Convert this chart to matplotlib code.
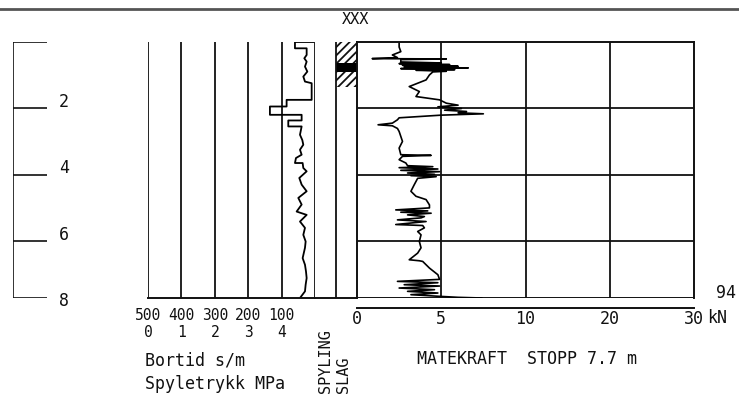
import numpy as np
import matplotlib
matplotlib.use("Agg")
import matplotlib.pyplot as plt
from matplotlib.lines import Line2D

plt.rcParams["font.family"] = ["DejaVu Sans Mono", "DejaVu Sans"]
plt.rcParams["font.size"] = 12
plt.rcParams["hatch.linewidth"] = 1.3

# --- data -----------------------------------------------------------------
depth_stop = 7.7
depth_ticks = [0, 2, 4, 6, 8]
depth_labels = ["", "2", "4", "6", "8"]

bortid_ticks = [500, 400, 300, 200, 100]
trykk_ticks = [0, 1, 2, 3, 4]
kraft_ticks = [0, 5, 10, 20, 30]
kraft_grid = [5, 10, 20]
depth_grid = [2, 4, 6]

# bortid (s/m) against depth (m)
bortid_depth = [0.0, 0.0, 0.19, 0.19, 0.39, 0.49, 0.59, 0.74, 0.89, 1.04,
                1.19, 1.24, 1.74, 1.74, 1.94, 1.94, 2.19, 2.19, 2.36, 2.36,
                2.54, 2.54, 2.79, 2.95, 3.09, 3.24, 3.39, 3.49, 3.64, 3.64,
                3.79, 3.89, 4.09, 4.29, 4.49, 4.69, 4.89, 5.10, 5.20, 5.40,
                5.59, 5.80, 6.00, 6.19, 6.50, 6.70, 6.90, 7.10, 7.30, 7.50,
                7.70]
bortid_val = [5, 60, 60, 25, 25, 32, 25, 30, 23, 35,
              30, 10, 10, 85, 85, 135, 135, 40, 40, 80,
              80, 40, 45, 38, 35, 45, 40, 57, 60, 37,
              35, 25, 47, 40, 25, 50, 40, 55, 25, 45,
              30, 35, 28, 30, 37, 30, 27, 25, 28, 30,
              45]

# matekraft (kN) against depth (m)
kraft_depth = [0.0, 0.15, 0.29, 0.39, 0.47, 0.50, 0.51, 0.53, 0.60, 0.63,
               0.65, 0.68, 0.70, 0.73, 0.75, 0.78, 0.80, 0.83, 0.85, 0.88,
               0.90, 0.99, 1.14, 1.34, 1.49, 1.64, 1.74, 1.84, 1.90, 1.95,
               2.00, 2.05, 2.09, 2.13, 2.16, 2.20, 2.28, 2.34, 2.44, 2.49,
               2.52, 2.60, 2.69, 2.99, 3.19, 3.39, 3.41, 3.44, 3.54, 3.64,
               3.72, 3.75, 3.78, 3.82, 3.86, 3.90, 3.94, 3.98, 4.02, 4.05,
               4.10, 4.29, 4.49, 4.64, 4.74, 4.90, 4.99, 5.05, 5.08, 5.12,
               5.15, 5.20, 5.25, 5.29, 5.35, 5.40, 5.49, 5.52, 5.59, 5.70,
               5.80, 6.00, 6.19, 6.35, 6.55, 6.58, 6.60, 6.80, 7.00, 7.14,
               7.20, 7.24, 7.30, 7.34, 7.40, 7.45, 7.50, 7.55, 7.60, 7.65,
               7.68, 7.70]
kraft_kn = [2.5, 2.5, 2.6, 2.1, 2.4, 0.9, 5.3, 2.6, 2.6, 5.0,
            2.5, 5.5, 2.7, 6.0, 2.8, 6.6, 2.6, 5.8, 3.5, 5.3,
            4.5, 4.3, 4.1, 3.1, 3.7, 3.5, 4.9, 5.3, 6.0, 4.8,
            6.2, 5.2, 6.5, 6.0, 7.5, 5.0, 2.5, 2.4, 2.1, 1.25,
            2.1, 2.4, 2.5, 2.7, 2.5, 2.6, 4.4, 2.7, 2.5, 2.9,
            3.0, 4.5, 2.5, 4.8, 2.6, 4.9, 3.0, 4.6, 3.2, 4.7,
            3.6, 3.4, 3.2, 3.5, 4.1, 4.3, 4.3, 2.3, 4.2, 2.6,
            4.4, 3.0, 4.0, 3.8, 2.4, 4.1, 2.3, 3.9, 4.0, 3.6,
            3.8, 3.7, 3.8, 3.6, 3.1, 3.7, 3.9, 4.3, 4.8, 4.9,
            2.4, 4.8, 2.8, 4.9, 2.5, 4.6, 3.0, 4.8, 3.2, 4.9,
            6.0, 7.4]

# slag column: hatched interval and solid interval (m)
slag_hatch = [0.0, 1.35]
slag_solid = [0.62, 0.90]

# --- figure ---------------------------------------------------------------
W, H = 739, 403
fig = plt.figure(figsize=(W / 100, H / 100), dpi=100)
ink = "#111111"
TOP, BOT = 42, 298


def px_axes(x0, x1, y0=TOP, y1=BOT):
    return fig.add_axes([x0 / W, 1 - y1 / H, (x1 - x0) / W, (y1 - y0) / H])


def no_spines(ax):
    for s in ax.spines.values():
        s.set_visible(False)


# top rule and header
fig.add_artist(Line2D([0, 1], [1 - 8.5 / H] * 2, color="#555555", lw=2))
fig.text(356 / W, 1 - 20 / H, "XXX", ha="center", va="center",
         fontsize=11, color=ink)

# depth ruler
ax_r = px_axes(13, 47)
ax_r.set_xlim(0, 1)
ax_r.set_ylim(depth_stop, 0)
ax_r.axis("off")
ax_r.vlines(0, 0, depth_stop, color=ink, lw=1.2)
ax_r.hlines([min(d, depth_stop) for d in depth_ticks], 0, 1, color=ink, lw=1.2)
for d, lab in zip(depth_ticks, depth_labels):
    ax_r.text(1.5, d - 0.2, lab, ha="center", va="center", color=ink,
              clip_on=False)

# bortid / spyletrykk panel
ax_b = px_axes(148, 315)
ax_b.set_xlim(500, 0)
ax_b.set_ylim(depth_stop, 0)
no_spines(ax_b)
ax_b.spines["bottom"].set_visible(True)
ax_b.spines["bottom"].set_color(ink)
ax_b.spines["bottom"].set_linewidth(1.4)
for v in bortid_ticks + [0]:
    ax_b.axvline(v, color=ink, lw=1.3)
ax_b.plot(bortid_val, bortid_depth, color="black", lw=1.3)
ax_b.set_yticks([])
ax_b.set_xticks(bortid_ticks)
ax_b.tick_params(axis="x", length=0, pad=7, colors=ink, labelsize=10.5)
sec = ax_b.secondary_xaxis("bottom", functions=(lambda b: (500 - b) / 100,
                                                 lambda p: 500 - 100 * p))
sec.set_xticks(trykk_ticks)
sec.tick_params(axis="x", length=0, pad=19.5, colors=ink, labelsize=10.5)
sec.spines["bottom"].set_visible(False)
ax_b.text(-0.02, -0.265, "Bortid s/m", transform=ax_b.transAxes,
          ha="left", va="baseline", color=ink)
ax_b.text(-0.02, -0.355, "Spyletrykk MPa", transform=ax_b.transAxes,
          ha="left", va="baseline", color=ink)

# spyling / slag columns
ax_c = px_axes(315, 357)
ax_c.set_xlim(0, 2)
ax_c.set_ylim(depth_stop, 0)
no_spines(ax_c)
ax_c.spines["bottom"].set_visible(True)
ax_c.spines["bottom"].set_color(ink)
ax_c.spines["bottom"].set_linewidth(1.4)
ax_c.set_xticks([])
ax_c.set_yticks([])
ax_c.axvline(1, color=ink, lw=1.3)
ax_c.fill_betweenx(slag_hatch, 1, 2, facecolor="none", edgecolor=ink,
                   hatch="////", linewidth=0)
ax_c.fill_betweenx(slag_solid, 1, 2, color="black", linewidth=0)
ax_c.text(0.24, -0.371, "SPYLING", transform=ax_c.transAxes, rotation=90,
          ha="center", va="bottom", color=ink, fontsize=11)
ax_c.text(0.67, -0.371, "SLAG", transform=ax_c.transAxes, rotation=90,
          ha="center", va="bottom", color=ink, fontsize=11)

# matekraft panel
ax_f = px_axes(357, 694)
seg_kn = [0, 5, 10, 20, 30]
seg_u = [0, 1, 2, 3, 4]
ax_f.set_xscale("function", functions=(lambda x: np.interp(x, seg_kn, seg_u),
                                       lambda u: np.interp(u, seg_u, seg_kn)))
ax_f.set_xlim(0, 30)
ax_f.set_ylim(depth_stop, 0)
for s in ["left", "top", "right", "bottom"]:
    ax_f.spines[s].set_color(ink)
    ax_f.spines[s].set_linewidth(1.4)
ax_f.spines["bottom"].set_position(("outward", 7))
ax_f.axhline(depth_stop, color=ink, lw=1.4)
for v in kraft_grid:
    ax_f.axvline(v, color=ink, lw=1.3)
for d in depth_grid:
    ax_f.axhline(d, color=ink, lw=1.3)
ax_f.plot(kraft_kn, kraft_depth, color="black", lw=1.2)
ax_f.set_yticks([])
ax_f.set_xticks(kraft_ticks)
ax_f.set_xticklabels([str(t) for t in kraft_ticks])
ax_f.xaxis.set_minor_locator(matplotlib.ticker.NullLocator())
ax_f.tick_params(axis="x", length=0, pad=2, colors=ink)
ax_f.text(1.039, -0.078, "kN", transform=ax_f.transAxes, ha="left",
          va="center", color=ink)
ax_f.text(1.095, 0.02, "94", transform=ax_f.transAxes, ha="center",
          va="center", color=ink)
ax_f.text(0.178, -0.238, "MATEKRAFT  STOPP 7.7 m", transform=ax_f.transAxes,
          ha="left", va="center", color=ink)

fig.savefig("out.png", dpi=100, facecolor="white")
